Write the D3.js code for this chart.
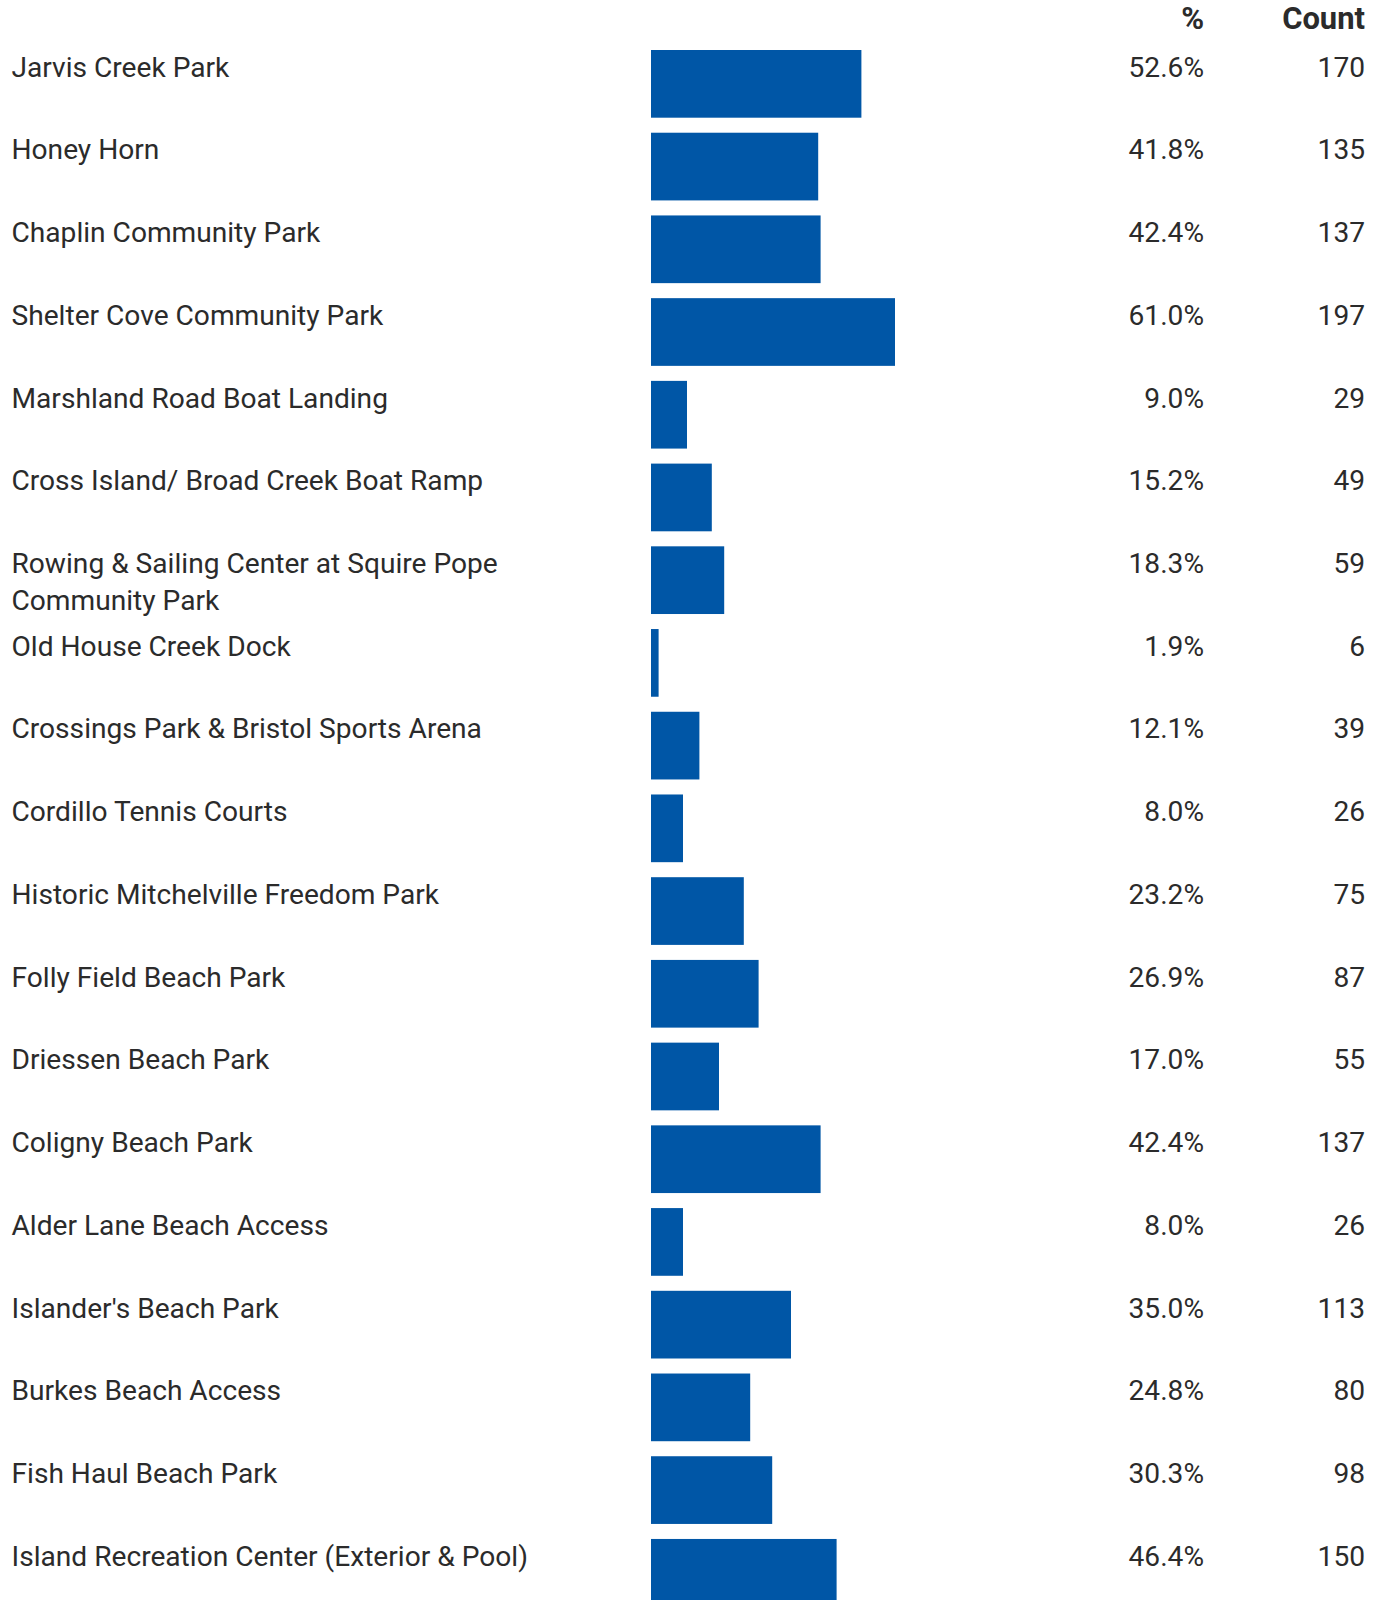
<!DOCTYPE html>
<html>
<head>
<meta charset="utf-8">
<script src="https://cdn.jsdelivr.net/npm/d3@7"></script>
<style>
  html, body { margin: 0; padding: 0; background: #ffffff; }
  svg { display: block; }
</style>
</head>
<body>
<svg id="chart" width="1377" height="1600"></svg>
<script>
const categories = [
  "Jarvis Creek Park",
  "Honey Horn",
  "Chaplin Community Park",
  "Shelter Cove Community Park",
  "Marshland Road Boat Landing",
  "Cross Island/ Broad Creek Boat Ramp",
  "Rowing & Sailing Center at Squire Pope Community Park",
  "Old House Creek Dock",
  "Crossings Park & Bristol Sports Arena",
  "Cordillo Tennis Courts",
  "Historic Mitchelville Freedom Park",
  "Folly Field Beach Park",
  "Driessen Beach Park",
  "Coligny Beach Park",
  "Alder Lane Beach Access",
  "Islander's Beach Park",
  "Burkes Beach Access",
  "Fish Haul Beach Park",
  "Island Recreation Center (Exterior & Pool)"
];
const percents = [52.6, 41.8, 42.4, 61.0, 9.0, 15.2, 18.3, 1.9, 12.1, 8.0, 23.2, 26.9, 17.0, 42.4, 8.0, 35.0, 24.8, 30.3, 46.4];
const counts = [170, 135, 137, 197, 29, 49, 59, 6, 39, 26, 75, 87, 55, 137, 26, 113, 80, 98, 150];
const headers = ["%", "Count"];

(function () {
const FONT = "Roboto, 'Liberation Sans', Arial, sans-serif";
const TEXT_COLOR = "#2b2b2b";
const BAR_COLOR = "#0056a6";

const cnv = document.createElement("canvas").getContext("2d");
cnv.font = "26px " + FONT;
const w26 = cnv.measureText("Shelter Cove Community Park").width;
const fontSize = 26 * 372 / w26;

const svg = d3.select("#chart");

const step = 82.72, barH = 67.7, top0 = 50;
const y = d3.scaleBand()
  .domain(d3.range(categories.length))
  .range([top0, top0 + categories.length * step - (step - barH)])
  .paddingInner((step - barH) / step)
  .paddingOuter(0);

const x = d3.scaleLinear().domain([0, 100]).range([651, 1051]);

const pctX = 1204, cntX = 1365;
const baseOff = 26.7;

svg.append("g").selectAll("text")
  .data(headers).join("text")
  .attr("x", (d, i) => i === 0 ? pctX : cntX)
  .attr("y", 28.5)
  .attr("text-anchor", "end")
  .attr("font-family", FONT)
  .attr("font-weight", "bold")
  .attr("font-size", fontSize * 1.1)
  .attr("fill", TEXT_COLOR)
  .text(d => d);

const rows = svg.append("g").selectAll("g")
  .data(categories.map((c, i) => ({c, p: percents[i], n: counts[i], i})))
  .join("g");

rows.append("rect")
  .attr("x", x(0))
  .attr("y", d => y(d.i))
  .attr("width", d => x(d.p) - x(0))
  .attr("height", y.bandwidth())
  .attr("fill", BAR_COLOR);

const wrapW = 600;
cnv.font = fontSize + "px " + FONT;
rows.each(function(d) {
  const words = d.c.split(" ");
  const lines = [];
  let cur = "";
  words.forEach(wd => {
    const t = cur ? cur + " " + wd : wd;
    if (cnv.measureText(t).width > wrapW && cur) { lines.push(cur); cur = wd; }
    else cur = t;
  });
  lines.push(cur);
  const t = d3.select(this).append("text")
    .attr("x", 11.5)
    .attr("y", y(d.i) + baseOff)
    .attr("font-family", FONT)
    .attr("font-size", fontSize)
    .attr("fill", TEXT_COLOR);
  lines.forEach((ln, k) => {
    t.append("tspan").attr("x", 11.5).attr("dy", k === 0 ? 0 : 37).text(ln);
  });
});

const fmtP = d3.format(".1f");
rows.append("text")
  .attr("x", pctX)
  .attr("y", d => y(d.i) + baseOff)
  .attr("text-anchor", "end")
  .attr("font-family", FONT)
  .attr("font-size", fontSize)
  .attr("fill", TEXT_COLOR)
  .text(d => fmtP(d.p) + "%");

rows.append("text")
  .attr("x", cntX)
  .attr("y", d => y(d.i) + baseOff)
  .attr("text-anchor", "end")
  .attr("font-family", FONT)
  .attr("font-size", fontSize)
  .attr("fill", TEXT_COLOR)
  .text(d => d.n);
})();
</script>
</body>
</html>
